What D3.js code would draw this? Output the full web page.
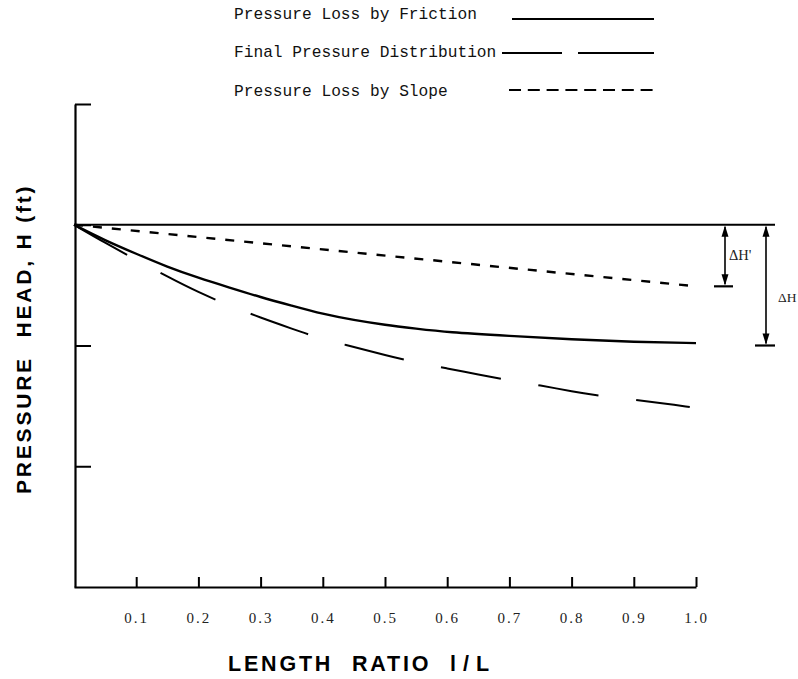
<!DOCTYPE html>
<html>
<head>
<meta charset="utf-8">
<script src="https://cdn.jsdelivr.net/npm/d3@7"></script>
<style>
  html, body { margin: 0; padding: 0; background: #fff; }
  svg { display: block; }
</style>
</head>
<body>
<svg id="chart" width="798" height="679"></svg>
<script>
// ---- data ----
const xTicks = [0.1, 0.2, 0.3, 0.4, 0.5, 0.6, 0.7, 0.8, 0.9, 1.0];
const tickLabels = ["0.1", "0.2", "0.3", "0.4", "0.5", "0.6", "0.7", "0.8", "0.9", "1.0"];
const yTicks = [1, 2, 3, 4];

const frictionX = [0, 0.05, 0.1, 0.15, 0.2, 0.25, 0.3, 0.35, 0.4, 0.45, 0.5, 0.55, 0.6, 0.7, 0.8, 0.9, 1.0];
const frictionH = [3.00, 2.87, 2.76, 2.65, 2.56, 2.48, 2.40, 2.33, 2.26, 2.21, 2.17, 2.14, 2.11, 2.08, 2.05, 2.03, 2.02];

const finalX = [0, 0.05, 0.1, 0.15, 0.2, 0.25, 0.3, 0.35, 0.4, 0.45, 0.5, 0.55, 0.6, 0.65, 0.7, 0.75, 0.8, 0.85, 0.9, 0.95, 0.99];
const finalH = [3.00, 2.85, 2.71, 2.57, 2.44, 2.33, 2.23, 2.14, 2.05, 1.99, 1.92, 1.86, 1.81, 1.76, 1.71, 1.67, 1.62, 1.58, 1.55, 1.52, 1.49];

const slopeX = [0, 1.0];
const slopeH = [3.00, 2.49];

const initialHead = 3.0;
const deltaHPrimeLevel = 2.49;
const deltaHLevel = 2.0;

const legendLabels = ["Pressure Loss by Friction", "Final Pressure Distribution", "Pressure Loss by Slope"];

// ---- layout ----
const svg = d3.select("#chart");
const x = d3.scaleLinear().domain([0, 1]).range([74, 696]);
const y = d3.scaleLinear().domain([0, 4]).range([587, 104]);

const line = d3.line().x(d => x(d[0])).y(d => y(d[1])).curve(d3.curveBasis);
const zip = (a, b) => a.map((v, i) => [v, b[i]]);

// Y axis (ticks pointing right)
const yAxis = svg.append("g").attr("transform", "translate(75,0)")
  .call(d3.axisRight(y).tickValues(yTicks).tickSize(16).tickSizeOuter(0).tickFormat(""));
yAxis.select(".domain").attr("stroke", "#000").attr("stroke-width", 2.2);
yAxis.selectAll(".tick line").attr("stroke", "#000").attr("stroke-width", 2);

// X axis (ticks pointing up, labels below)
const xAxis = svg.append("g").attr("transform", "translate(0,587)")
  .call(d3.axisBottom(x).tickValues(xTicks).tickSizeInner(-10).tickSizeOuter(0)
        .tickPadding(25).tickFormat((d, i) => tickLabels[i]));
xAxis.select(".domain").attr("stroke", "#000").attr("stroke-width", 2.2);
xAxis.selectAll(".tick line").attr("stroke", "#000").attr("stroke-width", 2);
xAxis.selectAll(".tick text")
  .attr("font-family", "'Liberation Serif', 'DejaVu Serif', serif")
  .attr("font-size", 15).attr("letter-spacing", "2px").attr("fill", "#222");

// initial head line
svg.append("line")
  .attr("x1", 75).attr("x2", 775)
  .attr("y1", y(initialHead)).attr("y2", y(initialHead))
  .attr("stroke", "#000").attr("stroke-width", 2);

// curves
svg.append("path").datum(zip(slopeX, slopeH)).attr("d", line)
  .attr("fill", "none").attr("stroke", "#000").attr("stroke-width", 2.4)
  .attr("stroke-dasharray", "9,10");
svg.append("path").datum(zip(frictionX, frictionH)).attr("d", line)
  .attr("fill", "none").attr("stroke", "#000").attr("stroke-width", 2.4);
svg.append("path").datum(zip(finalX, finalH)).attr("d", line)
  .attr("fill", "none").attr("stroke", "#000").attr("stroke-width", 2)
  .attr("stroke-dasharray", "61,38");

// delta H annotations
function dimArrow(xp, yTop, yBot, barL, barR) {
  const g = svg.append("g");
  g.append("line").attr("x1", xp).attr("x2", xp).attr("y1", yTop + 2).attr("y2", yBot - 2)
    .attr("stroke", "#000").attr("stroke-width", 1.6);
  g.append("path").attr("d", `M${xp},${yTop + 1}L${xp - 3.5},${yTop + 12}L${xp + 3.5},${yTop + 12}Z`).attr("fill", "#000");
  g.append("path").attr("d", `M${xp},${yBot - 1}L${xp - 3.5},${yBot - 12}L${xp + 3.5},${yBot - 12}Z`).attr("fill", "#000");
  g.append("line").attr("x1", barL).attr("x2", barR).attr("y1", yBot).attr("y2", yBot)
    .attr("stroke", "#000").attr("stroke-width", 2.2);
}
dimArrow(725, y(initialHead), y(deltaHPrimeLevel), 714, 733);
dimArrow(766, y(initialHead), y(deltaHLevel), 755, 775);

svg.append("text").attr("x", 729).attr("y", 260).text("ΔH'")
  .attr("font-family", "'Liberation Serif', serif").attr("font-size", 14.5).attr("fill", "#222");
svg.append("text").attr("x", 778).attr("y", 302).text("ΔH")
  .attr("font-family", "'Liberation Serif', serif").attr("font-size", 13.5).attr("fill", "#222");

// legend
const legendY = [19, 57, 96];
const legendLineY = [19, 53, 90];
legendLabels.forEach((t, i) => {
  svg.append("text").attr("x", 234).attr("y", legendY[i]).text(t)
    .attr("font-family", "'Liberation Mono', 'DejaVu Sans Mono', monospace")
    .attr("font-size", 16.2).attr("fill", "#111");
});
svg.append("line").attr("x1", 512).attr("x2", 654).attr("y1", legendLineY[0]).attr("y2", legendLineY[0])
  .attr("stroke", "#000").attr("stroke-width", 2);
svg.append("line").attr("x1", 502).attr("x2", 654).attr("y1", legendLineY[1]).attr("y2", legendLineY[1])
  .attr("stroke", "#000").attr("stroke-width", 2).attr("stroke-dasharray", "60,16,80");
svg.append("line").attr("x1", 509).attr("x2", 654).attr("y1", legendLineY[2]).attr("y2", legendLineY[2])
  .attr("stroke", "#000").attr("stroke-width", 2).attr("stroke-dasharray", "12,6.8");

// axis titles
const xt = svg.append("text").attr("x", 228).attr("y", 671)
  .attr("font-family", "'Liberation Sans', Arial, sans-serif").attr("font-weight", "bold")
  .attr("font-size", 21.5).attr("letter-spacing", "2.8px").attr("word-spacing", "10px").attr("fill", "#000");
xt.append("tspan").text("LENGTH RATIO ");
xt.append("tspan").attr("letter-spacing", "7px").text("l/L");

const yt = svg.append("text")
  .attr("transform", "translate(31,494) rotate(-90)")
  .attr("font-family", "'Liberation Sans', Arial, sans-serif").attr("font-weight", "bold")
  .attr("font-size", 21).attr("letter-spacing", "2.8px").attr("fill", "#000");
yt.append("tspan").text("PRESSURE ");
yt.append("tspan").attr("dx", 10).text("HEAD, H (ft)");
</script>
</body>
</html>
